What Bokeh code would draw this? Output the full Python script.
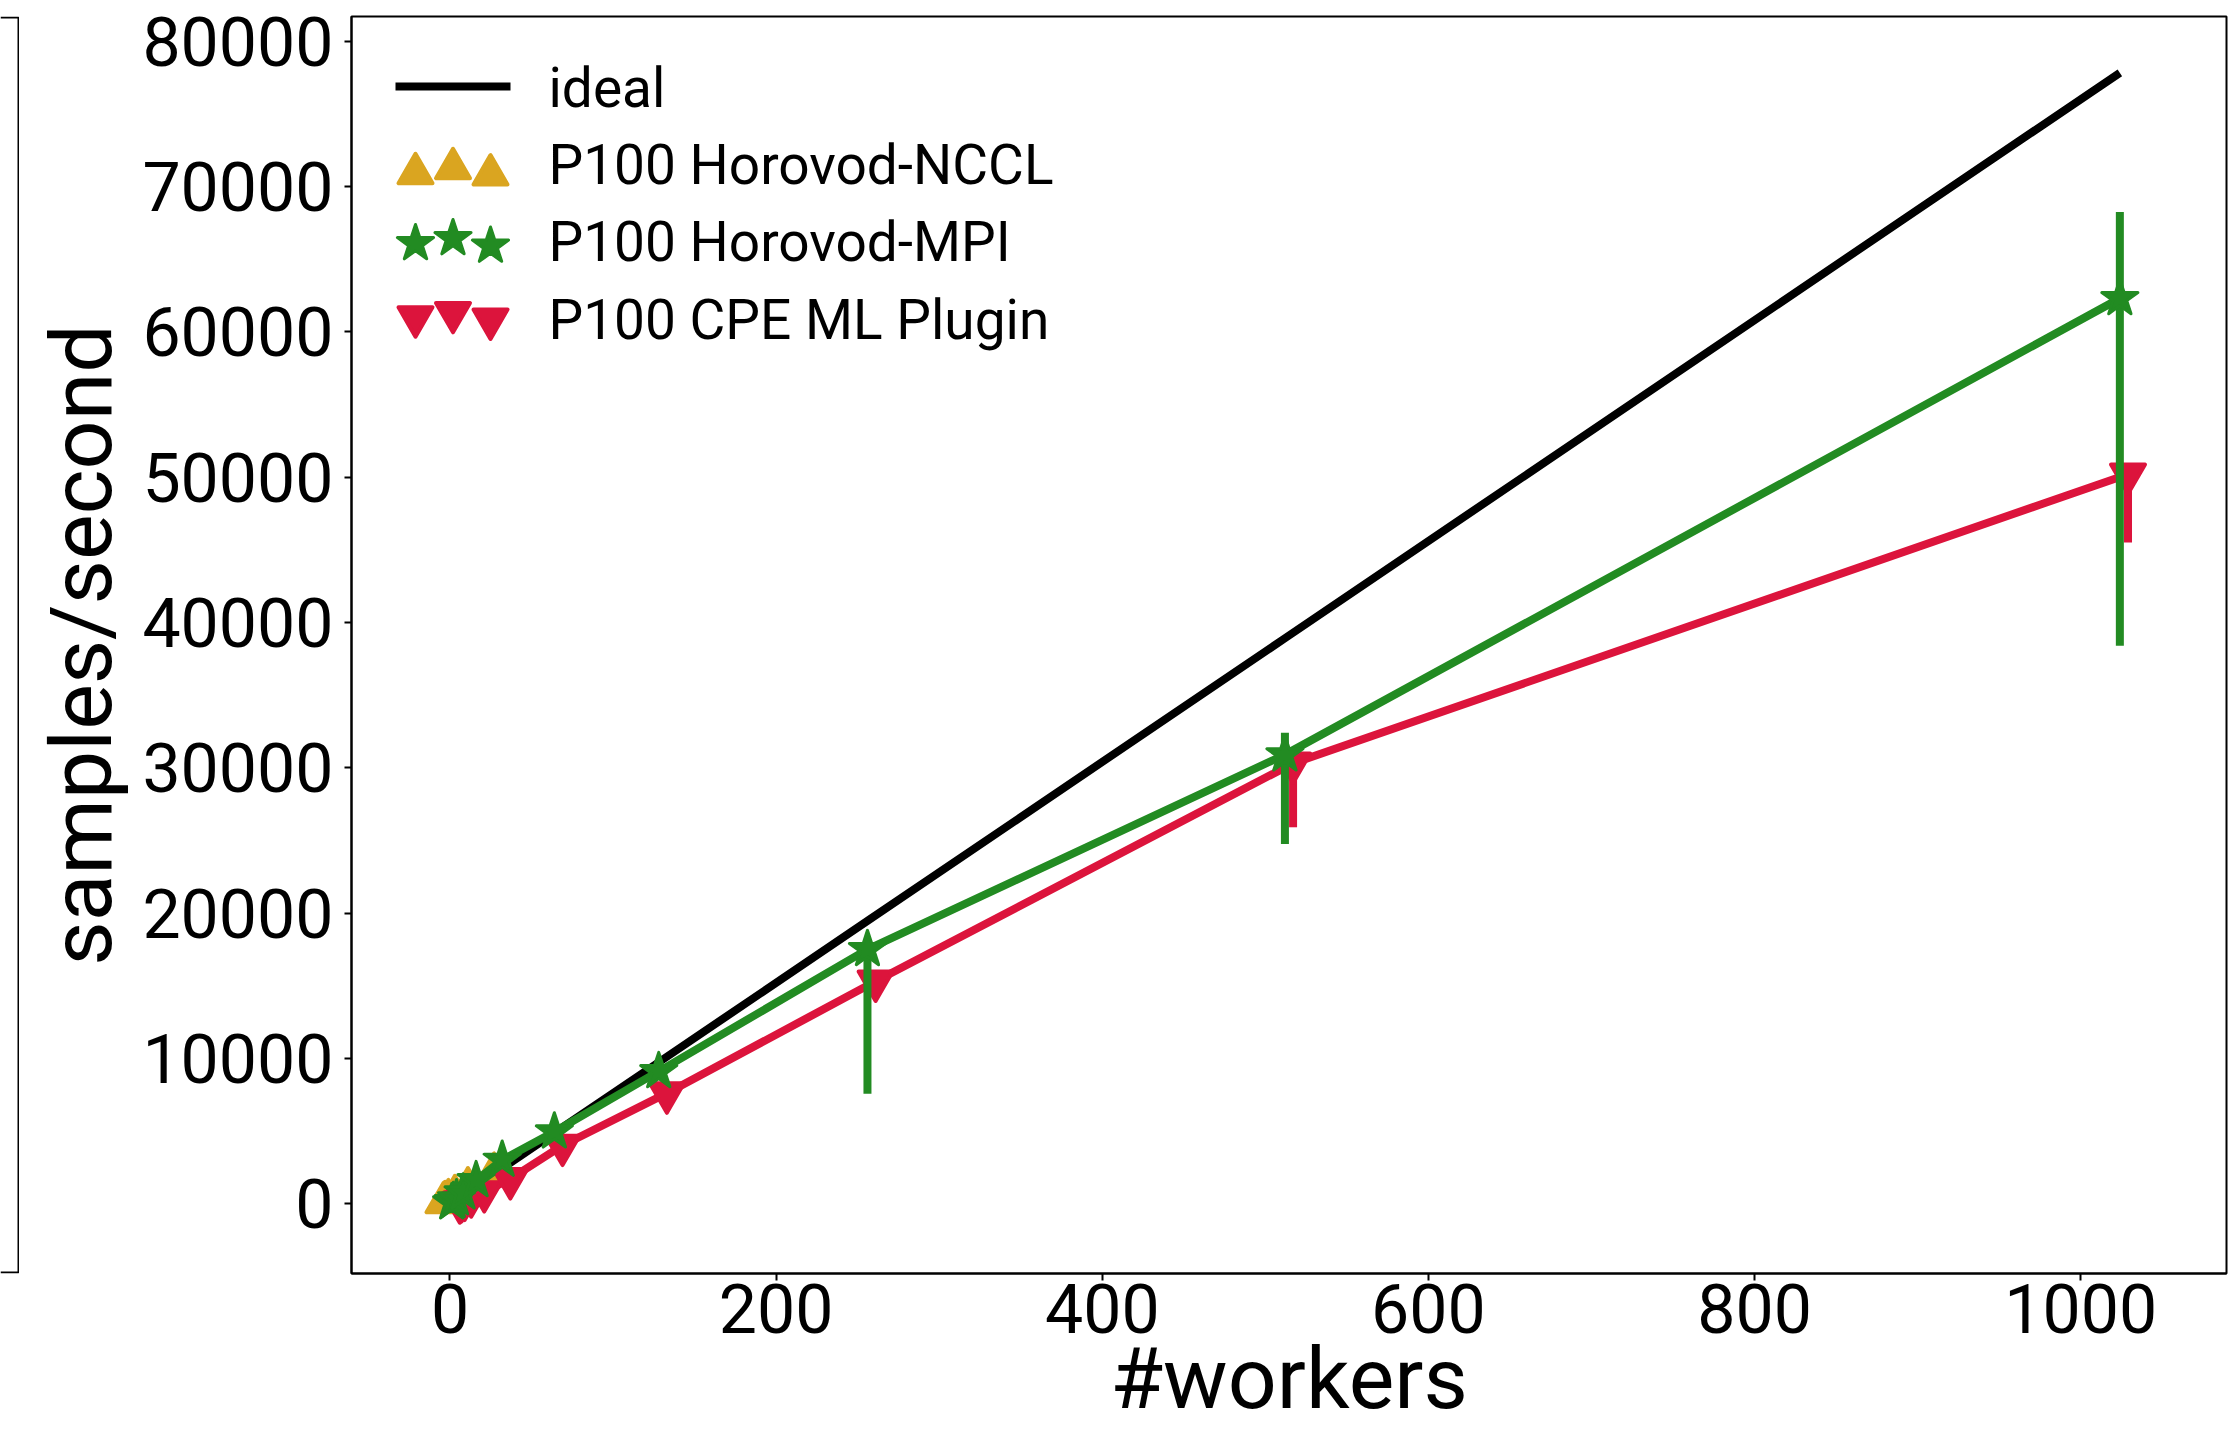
from bokeh.plotting import figure
from bokeh.models import Range1d, SingleIntervalTicker, BasicTickFormatter
from bokeh.layouts import row
from bokeh.embed import file_html
from bokeh.resources import INLINE
from bokeh.core.properties import value

# ---------------- data ----------------
workers = [1, 2, 4, 8, 16, 32, 64, 128, 256, 512, 1024]
ideal = [76, 152, 304, 608, 1216, 2432, 4864, 9728, 19456, 38912, 77824]

nccl_workers = [1, 2, 4, 8, 16, 32]
nccl = [75, 150, 280, 560, 1100, 2100]
nccl_lo = [-300, -150, 50, 300, 800, 1700]
nccl_hi = [400, 450, 500, 800, 1400, 2500]

mpi = [70, 160, 350, 750, 1600, 3000, 4950, 9100, 17500, 30900, 62300]
mpi_lo = [-650, -300, 0, 400, 1100, 2400, 4400, 8600, 7560, 24750, 38400]
mpi_hi = [500, 500, 700, 1100, 2000, 3400, 5300, 9500, 18200, 32400, 68250]

cpe = [40, 110, 220, 450, 800, 1700, 4000, 7600, 15300, 30300, 50200]
cpe_lo = [-200, -100, 0, 200, 500, 1300, 3600, 7200, 14800, 25900, 45500]
cpe_hi = [250, 300, 400, 650, 1100, 2000, 4300, 8000, 15700, 30700, 50900]

labels = ["ideal", "P100 Horovod-NCCL", "P100 Horovod-MPI", "P100 CPE ML Plugin"]
x_title = "#workers"
y_title = "samples/second"

# ---------------- style ----------------
FONT = "Roboto"
GOLD = "#DAA520"
GREEN = "#228B22"
RED = "#DC143C"
LW = 8
OFF_NCCL, OFF_MPI, OFF_CPE = -5, 0, 5
TRI = 34
STAR = 38

W, H = 2238, 1431
LEFT_W = 19
FRAME_L, FRAME_R, FRAME_T, FRAME_B = 351, 2226, 16, 1275
FRAME_W, FRAME_H = FRAME_R - FRAME_L, FRAME_B - FRAME_T

p = figure(width=W - LEFT_W, height=H, output_backend="svg", toolbar_location=None,
           title=None,
           x_range=Range1d(-60.4, 1089.4), y_range=Range1d(-4810, 81700),
           min_border_left=FRAME_L - LEFT_W, min_border_right=W - FRAME_R,
           min_border_top=FRAME_T, min_border_bottom=H - FRAME_B)
p.background_fill_color = "white"
p.border_fill_color = "white"
p.outline_line_color = "black"
p.outline_line_width = 2
p.xgrid.visible = False
p.ygrid.visible = False

p.xaxis.ticker = SingleIntervalTicker(interval=200, num_minor_ticks=0)
p.yaxis.ticker = SingleIntervalTicker(interval=10000, num_minor_ticks=0)
p.yaxis.formatter = BasicTickFormatter(use_scientific=False)
for ax in (p.xaxis, p.yaxis):
    ax.axis_line_width = 2
    ax.major_tick_line_width = 2
    ax.major_tick_out = 7
    ax.major_tick_in = 0
    ax.minor_tick_line_color = None
    ax.major_label_text_font = FONT
    ax.major_label_text_font_size = "68px"
    ax.major_label_text_color = "black"
    ax.axis_label_text_font = FONT
    ax.axis_label_text_font_size = "86px"
    ax.axis_label_text_font_style = "normal"
    ax.axis_label_text_color = "black"
p.xaxis.axis_label = x_title
p.yaxis.axis_label = y_title
p.xaxis.major_label_standoff = 3
p.xaxis.axis_label_standoff = -8
p.yaxis.major_label_standoff = 11
p.yaxis.axis_label_standoff = 7

# ideal
p.line(workers, ideal, line_width=LW, color="black")

# NCCL
xn = [w + OFF_NCCL for w in nccl_workers]
p.segment(xn, nccl_lo, xn, nccl_hi, line_width=LW, color=GOLD)
p.line(xn, nccl, line_width=LW, color=GOLD)
p.scatter(xn, nccl, marker="triangle", size=TRI, fill_color=GOLD, line_color=GOLD,
          line_width=4, line_join="round")

# CPE
xc = [w + OFF_CPE for w in workers]
p.segment(xc, cpe_lo, xc, cpe_hi, line_width=LW, color=RED)
p.line(xc, cpe, line_width=LW, color=RED)
p.scatter(xc, cpe, marker="inverted_triangle", size=TRI, fill_color=RED, line_color=RED,
          line_width=4, line_join="round")

# MPI
xm = [w + OFF_MPI for w in workers]
p.segment(xm, mpi_lo, xm, mpi_hi, line_width=LW, color=GREEN)
p.line(xm, mpi, line_width=LW, color=GREEN)
p.scatter(xm, mpi, marker="star", size=STAR, fill_color=GREEN, line_color=GREEN,
          line_width=3, line_join="round")

# ---------------- custom legend (pixel coordinates inside the frame) ----------------
p.extra_x_ranges = {"px": Range1d(0, FRAME_W)}
p.extra_y_ranges = {"px": Range1d(FRAME_H, 0)}
p.line([44, 159], [70, 70], x_range_name="px", y_range_name="px", line_width=LW, color="black")
lx = [64, 101.5, 139]
p.scatter(lx, [157.2, 152.2, 158.5], x_range_name="px", y_range_name="px", marker="triangle",
          size=TRI, fill_color=GOLD, line_color=GOLD, line_width=4, line_join="round")
p.scatter(lx, [227.3, 222.3, 229.8], x_range_name="px", y_range_name="px", marker="star",
          size=STAR, fill_color=GREEN, line_color=GREEN, line_width=3, line_join="round")
p.scatter(lx, [301, 296.7, 303.3], x_range_name="px", y_range_name="px", marker="inverted_triangle",
          size=TRI, fill_color=RED, line_color=RED, line_width=4, line_join="round")
p.text([197] * 4, [72, 148.7, 226.3, 303.7], text=labels, x_range_name="px", y_range_name="px",
       text_font=value(FONT), text_font_size="55px", text_baseline="alphabetic",
       text_align="left", text_color="black")

# ---------------- partial neighbouring panel on the far left ----------------
left = figure(width=LEFT_W, height=H, output_backend="svg", toolbar_location=None,
              title=None, x_axis_type=None, y_axis_type=None,
              x_range=Range1d(0, LEFT_W), y_range=Range1d(FRAME_H + 2, 0),
              min_border_left=0, min_border_right=0, min_border_top=FRAME_T - 1,
              min_border_bottom=H - FRAME_B - 1)
left.grid.visible = False
left.outline_line_color = None
left.border_fill_color = "white"
left.background_fill_color = "white"
left.line([0, 18, 18, 0], [1, 1, FRAME_H + 1, FRAME_H + 1], line_width=2, color="black")

layout = row(left, p)
open("out.html", "w").write(file_html(layout, INLINE))
